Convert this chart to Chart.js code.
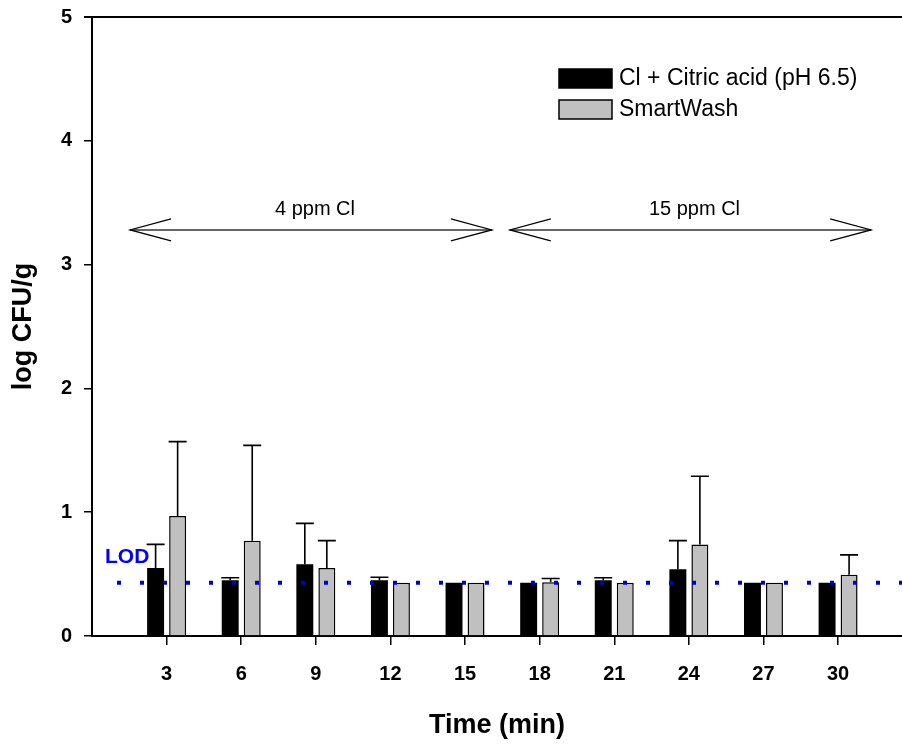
<!DOCTYPE html>
<html>
<head>
<meta charset="utf-8">
<script src="https://cdn.jsdelivr.net/npm/chart.js@4.4.0/dist/chart.umd.min.js"></script>
<style>
  body { margin: 0; background: #fff; }
  #wrap { width: 902px; height: 745px; position: relative; }
</style>
</head>
<body>
<div id="wrap"><canvas id="chart"></canvas></div>
<script>
// data
var times = [3, 6, 9, 12, 15, 18, 21, 24, 27, 30];
var citric = [0.55, 0.45, 0.58, 0.45, 0.43, 0.43, 0.45, 0.54, 0.43, 0.43];
var citricErr = [0.19, 0.02, 0.33, 0.025, 0, 0, 0.02, 0.23, 0, 0];
var smart = [0.97, 0.77, 0.55, 0.43, 0.43, 0.435, 0.43, 0.74, 0.43, 0.495];
var smartErr = [0.60, 0.77, 0.22, 0, 0, 0.03, 0, 0.55, 0, 0.16];
var seriesNames = ['Cl + Citric acid (pH 6.5)', 'SmartWash'];
var yTicks = [0, 1, 2, 3, 4, 5];
var lod = 0.43;
var ranges = [[1.53, 16.08], [16.8, 31.33]];
var rangeLabels = ['4 ppm Cl', '15 ppm Cl'];
var rangeY = 3.28;

var FONT = 'Arial, "Liberation Sans", sans-serif';

function pts(vals) {
  return times.map(function (t, i) { return { x: t, y: vals[i] }; });
}

var extras = {
  id: 'extras',
  afterDatasetsDraw: function (chart) {
    var ctx = chart.ctx;
    var xs = chart.scales.x;
    var ys = chart.scales.y;
    var area = chart.chartArea;
    var errs = [citricErr, smartErr];

    ctx.save();
    // error bars (upper only)
    ctx.strokeStyle = '#000';
    ctx.lineWidth = 1.6;
    chart.data.datasets.forEach(function (ds, d) {
      var meta = chart.getDatasetMeta(d);
      meta.data.forEach(function (bar, i) {
        var e = errs[d][i];
        if (!e) return;
        var top = ys.getPixelForValue(ds.data[i].y + e);
        ctx.beginPath();
        ctx.moveTo(bar.x, bar.y);
        ctx.lineTo(bar.x, top);
        ctx.moveTo(bar.x - 9, top);
        ctx.lineTo(bar.x + 9, top);
        ctx.stroke();
      });
    });

    // top frame line
    ctx.lineWidth = 2;
    ctx.beginPath();
    ctx.moveTo(area.left - 8, area.top);
    ctx.lineTo(area.right, area.top);
    ctx.stroke();

    // LOD dotted line
    var ly = ys.getPixelForValue(lod);
    ctx.strokeStyle = '#0000c8';
    ctx.lineWidth = 4;
    ctx.setLineDash([4, 19]);
    ctx.beginPath();
    ctx.moveTo(area.left + 25, ly);
    ctx.lineTo(area.right, ly);
    ctx.stroke();
    ctx.setLineDash([]);
    ctx.fillStyle = '#0000ff';
    ctx.font = 'bold 21px ' + FONT;
    ctx.textAlign = 'left';
    ctx.textBaseline = 'middle';
    ctx.fillText('LOD', area.left + 13, ly - 26);

    // range arrows
    var ay = ys.getPixelForValue(rangeY);
    ranges.forEach(function (r, k) {
      var x1 = xs.getPixelForValue(r[0]);
      var x2 = xs.getPixelForValue(r[1]);
      ctx.strokeStyle = '#333';
      ctx.lineWidth = 1.6;
      ctx.beginPath();
      ctx.moveTo(x1, ay);
      ctx.lineTo(x2, ay);
      ctx.stroke();
      ctx.strokeStyle = '#000';
      ctx.lineWidth = 1.2;
      ctx.beginPath();
      ctx.moveTo(x1 + 41, ay - 11);
      ctx.lineTo(x1, ay);
      ctx.lineTo(x1 + 41, ay + 11);
      ctx.moveTo(x2 - 41, ay - 11);
      ctx.lineTo(x2, ay);
      ctx.lineTo(x2 - 41, ay + 11);
      ctx.stroke();
      ctx.fillStyle = '#000';
      ctx.font = '20px ' + FONT;
      ctx.textAlign = 'center';
      ctx.fillText(rangeLabels[k], (x1 + x2) / 2 + 4, ay - 20);
    });

    // legend
    ctx.textAlign = 'left';
    ctx.font = '23px ' + FONT;
    chart.data.datasets.forEach(function (ds, d) {
      var top = 69 + d * 31;
      ctx.fillStyle = ds.backgroundColor;
      ctx.fillRect(559, top, 53, 19);
      ctx.strokeStyle = '#000';
      ctx.lineWidth = 1.5;
      ctx.strokeRect(559, top, 53, 19);
      ctx.fillStyle = '#000';
      ctx.fillText(ds.label, 619, top + 10);
    });
    ctx.restore();
  }
};

new Chart(document.getElementById('chart'), {
  type: 'bar',
  data: {
    datasets: [
      {
        label: seriesNames[0],
        data: pts(citric),
        backgroundColor: '#000000',
        borderColor: '#000000',
        borderWidth: 0
      },
      {
        label: seriesNames[1],
        data: pts(smart),
        backgroundColor: '#c0c0c0',
        borderColor: '#000000',
        borderWidth: 1.5,
        borderSkipped: 'bottom'
      }
    ]
  },
  options: {
    responsive: true,
    maintainAspectRatio: false,
    animation: false,
    events: [],
    categoryPercentage: 0.59,
    barPercentage: 0.77,
    layout: { padding: { top: 17, right: 0, left: 0, bottom: 0 } },
    plugins: {
      legend: { display: false },
      tooltip: { enabled: false }
    },
    scales: {
      x: {
        type: 'linear',
        min: 0,
        max: 32.57,
        offset: false,
        afterBuildTicks: function (scale) {
          scale.ticks = times.map(function (t) { return { value: t }; });
        },
        afterFit: function (scale) {
          scale.height = 109;
          scale.paddingLeft = 0;
          scale.paddingRight = 0;
        },
        grid: { offset: false, drawOnChartArea: false, color: '#000', lineWidth: 1.5, tickLength: 9 },
        border: { color: '#000', width: 2 },
        ticks: {
          color: '#000',
          padding: 17,
          maxRotation: 0,
          font: { family: FONT, size: 20, weight: 'bold' }
        },
        title: {
          display: true,
          text: 'Time (min)',
          color: '#000',
          font: { family: FONT, size: 27, weight: 'bold' },
          padding: { top: 0, bottom: 3 }
        }
      },
      y: {
        min: 0,
        max: 5,
        afterBuildTicks: function (scale) {
          scale.ticks = yTicks.map(function (v) { return { value: v }; });
        },
        afterFit: function (scale) {
          scale.width = 92;
          scale.paddingTop = 0;
          scale.paddingBottom = 0;
        },
        grid: { drawOnChartArea: false, color: '#000', lineWidth: 1.5, tickLength: 8 },
        border: { color: '#000', width: 2 },
        ticks: {
          color: '#000',
          padding: 12,
          font: { family: FONT, size: 20, weight: 'bold' }
        },
        title: {
          display: true,
          text: 'log CFU/g',
          color: '#000',
          font: { family: FONT, size: 27, weight: 'bold' },
          padding: { top: 7, bottom: 0 }
        }
      }
    }
  },
  plugins: [extras]
});
</script>
</body>
</html>
